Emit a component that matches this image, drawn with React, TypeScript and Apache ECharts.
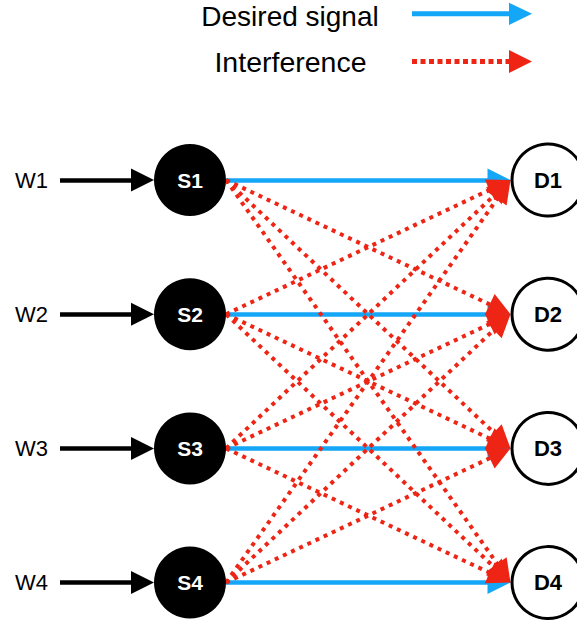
import React, { useEffect, useRef } from "react";
import * as echarts from "echarts";

// ---- data ----
const inputs = ["W1", "W2", "W3", "W4"];
const sources = ["S1", "S2", "S3", "S4"];
const destinations = ["D1", "D2", "D3", "D4"];
// [source index, destination index]
const desiredLinks = [
  [0, 0],
  [1, 1],
  [2, 2],
  [3, 3],
];
const interferenceLinks = [
  [0, 1], [0, 2], [0, 3],
  [1, 0], [1, 2], [1, 3],
  [2, 0], [2, 1], [2, 3],
  [3, 0], [3, 1], [3, 2],
];
const legendLabels = ["Desired signal", "Interference"];

// ---- layout (pixels) ----
const W = 577;
const H = 625;
const SRC_X = 190;
const DST_X = 548;
const ROW0 = 180;
const ROW_STEP = 134.2;
const XS = DST_X - SRC_X;
const S_R = 36;
const D_R = 37.5;
const HEAD = 23;
const INPUT_START = 60;
const INPUT_LABEL_X = 31.5;

const BLUE = "#14a6f7";
const RED = "#ee2414";
const FONT = "'Liberation Sans', Helvetica, Arial, sans-serif";

const toData = (px: number, py: number) => [(px - SRC_X) / XS, (py - ROW0) / ROW_STEP];
const rowY = (i: number) => ROW0 + i * ROW_STEP;

function arrowCoords(x1: number, y1: number, tipX: number, tipY: number) {
  const dx = tipX - x1;
  const dy = tipY - y1;
  const len = Math.sqrt(dx * dx + dy * dy);
  const ex = tipX - (dx / len) * (HEAD / 2);
  const ey = tipY - (dy / len) * (HEAD / 2);
  return [toData(x1, y1), toData(ex, ey)];
}

function linkData(links: number[][]) {
  return links.map(([s, d]) => ({
    coords: arrowCoords(SRC_X + S_R, rowY(s), DST_X - D_R, rowY(d)),
  }));
}

export default function App() {
  const ref = useRef<HTMLDivElement>(null);
  useEffect(() => {
    if (!ref.current) return;
    const chart = echarts.init(ref.current, null, { renderer: "svg" });
    const option: any = {
      animation: false,
      backgroundColor: "#fff",
      grid: { left: 0, right: 0, top: 0, bottom: 0 },
      xAxis: { type: "value", min: -SRC_X / XS, max: (W - SRC_X) / XS, show: false },
      yAxis: {
        type: "value",
        inverse: true,
        min: -ROW0 / ROW_STEP,
        max: (H - ROW0) / ROW_STEP,
        show: false,
      },
      series: [
        {
          type: "lines",
          coordinateSystem: "cartesian2d",
          silent: true,
          symbol: ["none", "triangle"],
          symbolSize: [0, HEAD],
          lineStyle: { color: "#000", width: 4.5, opacity: 1 },
          data: inputs.map((_, i) => ({
            coords: arrowCoords(INPUT_START, rowY(i), SRC_X - S_R, rowY(i)),
          })),
          z: 2,
        },
        {
          type: "lines",
          coordinateSystem: "cartesian2d",
          silent: true,
          symbol: ["none", "triangle"],
          symbolSize: [0, HEAD],
          lineStyle: { color: BLUE, width: 4.5, opacity: 1 },
          data: linkData(desiredLinks),
          z: 3,
        },
        {
          type: "lines",
          coordinateSystem: "cartesian2d",
          silent: true,
          symbol: ["none", "triangle"],
          symbolSize: [0, HEAD],
          lineStyle: { color: RED, width: 4, type: [4, 5], opacity: 1 },
          data: linkData(interferenceLinks),
          z: 4,
        },
        {
          type: "scatter",
          silent: true,
          symbolSize: 1,
          itemStyle: { color: "transparent", opacity: 1 },
          label: {
            show: true,
            position: "inside",
            formatter: "{b}",
            color: "#000",
            fontSize: 22,
            fontFamily: FONT,
          },
          data: inputs.map((n, i) => ({ name: n, value: toData(INPUT_LABEL_X, rowY(i)) })),
          z: 5,
        },
        {
          type: "scatter",
          silent: true,
          symbolSize: S_R * 2,
          itemStyle: { color: "#000", opacity: 1 },
          label: {
            show: true,
            position: "inside",
            formatter: "{b}",
            color: "#fff",
            fontSize: 21,
            fontWeight: "bold",
            fontFamily: FONT,
          },
          data: sources.map((n, i) => ({ name: n, value: [0, i] })),
          z: 6,
        },
        {
          type: "scatter",
          silent: true,
          symbolSize: (D_R - 1.5) * 2,
          itemStyle: { color: "#fff", borderColor: "#000", borderWidth: 3, opacity: 1 },
          label: {
            show: true,
            position: "inside",
            formatter: "{b}",
            color: "#000",
            fontSize: 22,
            fontWeight: "bold",
            fontFamily: FONT,
          },
          data: destinations.map((n, i) => ({ name: n, value: [1, i] })),
          z: 6,
        },
      ],
      graphic: [
        {
          type: "text",
          x: 290,
          y: 16,
          style: {
            text: legendLabels[0],
            fill: "#000",
            font: `28px ${FONT}`,
            align: "center",
            verticalAlign: "middle",
          },
        },
        {
          type: "text",
          x: 290.5,
          y: 62,
          style: {
            text: legendLabels[1],
            fill: "#000",
            font: `28.5px ${FONT}`,
            align: "center",
            verticalAlign: "middle",
          },
        },
        {
          type: "line",
          shape: { x1: 412, y1: 13.8, x2: 512, y2: 13.8 },
          style: { stroke: BLUE, lineWidth: 5 },
        },
        {
          type: "polygon",
          shape: { points: [[509, 2.7], [532, 13.8], [509, 25]] },
          style: { fill: BLUE },
        },
        {
          type: "line",
          shape: { x1: 412, y1: 61.5, x2: 510, y2: 61.5 },
          style: { stroke: RED, lineWidth: 5, lineDash: [5, 3.5] },
        },
        {
          type: "polygon",
          shape: { points: [[509, 50], [532, 61.5], [509, 73]] },
          style: { fill: RED },
        },
      ],
    };
    chart.setOption(option);
    return () => chart.dispose();
  }, []);
  return (
    <div
      ref={ref}
      style={{ position: "fixed", left: 0, top: 0, width: W, height: H, background: "#fff" }}
    />
  );
}
